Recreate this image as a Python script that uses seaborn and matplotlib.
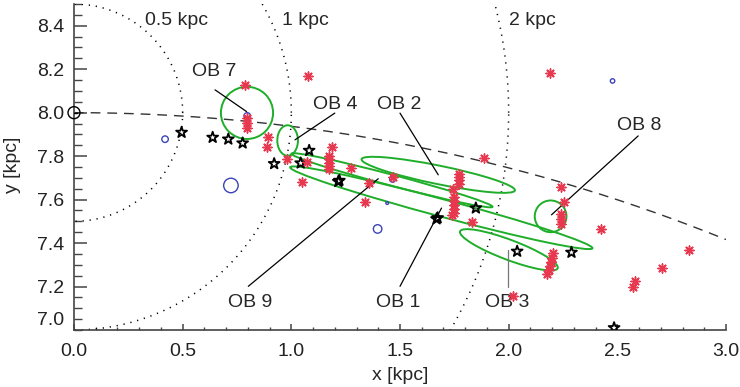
import numpy as np
import pandas as pd
import matplotlib
matplotlib.use("Agg")
import matplotlib.pyplot as plt
from matplotlib.patches import Ellipse
from matplotlib.ticker import MultipleLocator, FormatStrFormatter
import seaborn as sns

sns.set_style("ticks")
plt.rcParams["font.family"] = ["Liberation Sans", "DejaVu Sans"]
plt.rcParams["font.size"] = 14

# ---- data (kpc) ----
sun_x, sun_y = 0.0, 8.0
r_sun_gc = 8.0
ring_radii = [0.5, 1.0, 2.0]
ring_names = ["0.5 kpc", "1 kpc", "2 kpc"]

# young stellar objects (red asterisks)
yso_x = [0.787, 0.797, 0.797, 0.797, 0.891, 0.886, 0.978, 1.078, 1.050, 1.070,
         1.185, 1.174, 1.174, 1.174, 1.174, 1.174, 1.273, 1.358, 1.339, 1.466,
         1.886, 1.772, 1.772, 1.772, 1.772, 1.745, 1.748, 1.748, 1.748, 1.748,
         1.748, 1.737, 1.829, 2.239, 2.254, 2.243, 2.243, 2.243, 2.427, 2.829,
         2.705, 2.582, 2.571, 2.205, 2.200, 2.195, 2.190, 2.184, 2.178, 2.021,
         2.190]
yso_y = [8.128, 7.976, 7.953, 7.930, 7.887, 7.844, 7.786, 8.169, 7.679, 7.771,
         7.840, 7.800, 7.785, 7.770, 7.755, 7.740, 7.745, 7.676, 7.591, 7.704,
         7.791, 7.718, 7.704, 7.690, 7.674, 7.648, 7.612, 7.595, 7.577, 7.558,
         7.540, 7.530, 7.495, 7.656, 7.589, 7.535, 7.512, 7.489, 7.465, 7.366,
         7.284, 7.227, 7.198, 7.352, 7.333, 7.314, 7.295, 7.276, 7.258, 7.155,
         8.184]

# open clusters (black stars)
oc_x = [0.495, 0.638, 0.710, 0.776, 0.921, 1.043, 1.082, 1.216, 1.221,
        1.668, 1.673, 1.849, 2.039, 2.289, 2.485]
oc_y = [7.909, 7.886, 7.878, 7.860, 7.765, 7.768, 7.826, 7.683, 7.688,
        7.511, 7.516, 7.561, 7.362, 7.357, 7.010]

# masers (blue rings), ring diameter
maser_x = [0.419, 0.722, 0.797, 1.466, 1.441, 1.397, 2.478]
maser_y = [7.878, 7.665, 7.985, 7.694, 7.584, 7.465, 8.146]
maser_d = [6.5, 14.5, 6.5, 6.0, 2.7, 8.5, 4.4]

# OB associations: centre, extent along/across the major axis, position angle
ob_names = ["OB 1", "OB 2", "OB 3", "OB 4", "OB 7", "OB 8", "OB 9"]
ob_x = [1.690, 1.676, 2.001, 0.983, 0.796, 2.193, 1.463]
ob_y = [7.5625, 7.714, 7.369, 7.872, 7.999, 7.523, 7.689]
ob_len = [1.44, 0.72, 0.48, 0.095, 0.24, 0.146, 0.957]
ob_wid = [0.08, 0.085, 0.092, 0.14, 0.24, 0.146, 0.05]
ob_ang = [-15.0, -11.5, -20.7, 0.0, 0.0, 0.0, -14.8]

# ---- figure ----
fig = plt.figure(figsize=(7.4, 3.87), dpi=100)
ax = fig.add_axes([74 / 740, 57 / 387, 652 / 740, 326 / 387])
ax.set_xlim(0, 3)
ax.set_ylim(7.0, 8.5)

# distance rings around the Sun
t = np.linspace(0, 2 * np.pi, 2000)
for r in ring_radii:
    ax.plot(sun_x + r * np.cos(t), sun_y + r * np.sin(t), color="black",
            lw=1.1, linestyle=(0, (0.8, 3.8)), zorder=1)
for name, lx in zip(ring_names, [0.327, 0.957, 2.0]):
    ax.text(lx, 8.426, name, ha="left", va="center", fontsize=14)

# solar circle
xc = np.linspace(0, 3, 400)
ax.plot(xc, np.sqrt(r_sun_gc ** 2 - xc ** 2), color="#333333", lw=1.0,
        linestyle=(0, (7, 5)), zorder=1)

# OB association outlines
green = "#1fae2a"
for x, y, w, h, a in zip(ob_x, ob_y, ob_len, ob_wid, ob_ang):
    ax.add_patch(Ellipse((x, y), w, h, angle=a, fill=False, ec=green,
                         lw=1.4, zorder=3))

# labels with leader lines
leaders = {
    "OB 7": ((0.647, 8.189), (0.649, 8.105), (0.794, 8.005), "black"),
    "OB 4": ((1.200, 8.038), (1.200, 7.998), (1.017, 7.875), "black"),
    "OB 2": ((1.495, 8.036), (1.500, 7.998), (1.676, 7.714), "black"),
    "OB 8": ((2.599, 7.939), (2.596, 7.893), (2.197, 7.530), "black"),
    "OB 9": ((0.810, 7.127), (0.802, 7.201), (1.400, 7.696), "black"),
    "OB 1": ((1.492, 7.127), (1.500, 7.201), (1.691, 7.561), "black"),
    "OB 3": ((1.994, 7.127), (1.998, 7.199), (1.998, 7.369), "#777777"),
}
for name in ob_names:
    (tx, ty), (x0, y0), (x1, y1), c = leaders[name]
    ax.plot([x0, x1], [y0, y1], color=c, lw=0.9, zorder=4)
    ax.text(tx, ty, name, ha="center", va="center", fontsize=14, zorder=4)

# markers
df_yso = pd.DataFrame({"x": yso_x, "y": yso_y})
sns.scatterplot(data=df_yso, x="x", y="y", ax=ax, marker=(8, 2, 0), s=42,
                color="#e8384f", edgecolor=None, linewidth=1.1, zorder=6)

df_oc = pd.DataFrame({"x": oc_x, "y": oc_y})
sns.scatterplot(data=df_oc, x="x", y="y", ax=ax, marker="*", s=68,
                facecolors="none", edgecolor="black", linewidth=1.3, zorder=5)

df_m = pd.DataFrame({"x": maser_x, "y": maser_y,
                     "s": [(d * 0.72) ** 2 for d in maser_d]})
ax.scatter(df_m["x"], df_m["y"], s=df_m["s"], facecolors="none",
           edgecolors="#3a44b8", linewidths=1.0, zorder=5)

# the Sun
ax.scatter([sun_x], [sun_y], s=(12 * 0.72) ** 2, facecolors="none",
           edgecolors="black", linewidths=1.0, zorder=7, clip_on=False)
ax.plot([0, 0.015], [8.0, 8.0], color="black", lw=1.0, zorder=7)

# axes styling
for sp in ["top", "right"]:
    ax.spines[sp].set_visible(False)
for sp in ["left", "bottom"]:
    ax.spines[sp].set_color("#444444")
    ax.spines[sp].set_linewidth(1.2)
ax.xaxis.set_major_locator(MultipleLocator(0.5))
ax.xaxis.set_minor_locator(MultipleLocator(0.1))
ax.yaxis.set_major_locator(MultipleLocator(0.2))
ax.yaxis.set_minor_locator(MultipleLocator(0.05))
ax.xaxis.set_major_formatter(FormatStrFormatter("%.1f"))
ax.yaxis.set_major_formatter(FormatStrFormatter("%.1f"))
ax.set_yticks([7.2, 7.4, 7.6, 7.8, 8.0, 8.2, 8.4])
ax.tick_params(axis="both", which="both", direction="in", color="#444444",
               labelsize=14, labelcolor="#222222")
ax.tick_params(axis="y", which="major", length=9.5, width=1.1, pad=7)
ax.tick_params(axis="y", which="minor", length=5.5, width=1.0)
ax.tick_params(axis="x", which="major", length=4.5, width=1.1, pad=9)
ax.tick_params(axis="x", which="minor", length=2.5, width=1.0)
ax.annotate("7.0", xy=(0, 7.0), xycoords=("axes fraction", "data"),
            xytext=(-7, 7), textcoords="offset points", ha="right",
            va="center", fontsize=14, color="#222222")

ax.set_xlabel("x [kpc]", fontsize=14)
ax.set_ylabel("y [kpc]", fontsize=14)
ax.xaxis.set_label_coords(0.5, -0.115)
ax.yaxis.set_label_coords(-0.081, 0.506)

fig.savefig("out.png", dpi=100)
